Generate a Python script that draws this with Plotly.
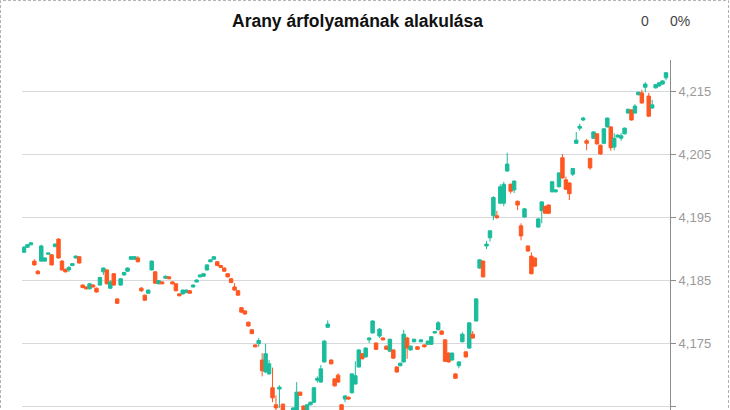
import plotly.graph_objects as go

# Árfolyam-gyertyák (nyitó, max, min, záró)
opens = [
    4.1894, 4.1902, 4.1906, 4.1880, 4.1864, 4.1880, 4.1880, 4.1891, 4.1890, 4.1903,
    4.1915, 4.1880, 4.1867, 4.1866, 4.1873, 4.1885, 4.1887, 4.1842, 4.1839, 4.1836,
    4.1842, 4.1837, 4.1842, 4.1863, 4.1866, 4.1837, 4.1860, 4.1820, 4.1842, 4.1858,
    4.1864, 4.1883, 4.1883, 4.1885, 4.1837, 4.1826, 4.1829, 4.1866, 4.1863, 4.1844,
    4.1847, 4.1853, 4.1855, 4.1847, 4.1844, 4.1828, 4.1828, 4.1830, 4.1833, 4.1839,
    4.1847, 4.1855, 4.1856, 4.1866, 4.1879, 4.1883, 4.1879, 4.1873, 4.1869, 4.1860,
    4.1852, 4.1839, 4.1833, 4.1806, 4.1801, 4.1783, 4.1771, 4.1747, 4.1749, 4.1723,
    4.1704, 4.1701, 4.1679, 4.1652, 4.1677, 4.1653, 4.1641, 4.1625, 4.1635, 4.1636,
    4.1672, 4.1650, 4.1638, 4.1652, 4.1656, 4.1691, 4.1688, 4.1720, 4.1775, 4.1723,
    4.1693, 4.1699, 4.1652, 4.1661, 4.1664, 4.1671, 4.1685, 4.1712, 4.1733, 4.1728,
    4.1755, 4.1766, 4.1750, 4.1761, 4.1758, 4.1745, 4.1737, 4.1739, 4.1712, 4.1714,
    4.1720, 4.1758, 4.1739, 4.1752, 4.1744, 4.1752, 4.1747, 4.1748, 4.1748, 4.1766,
    4.1771, 4.1769, 4.1755, 4.1734, 4.1723, 4.1701, 4.1714, 4.1752, 4.1736, 4.1742,
    4.1764, 4.1785, 4.1869, 4.1880, 4.1904, 4.1917, 4.1952, 4.1952, 4.1972, 4.1972,
    4.2023, 4.2002, 4.1993, 4.1975, 4.1936, 4.1950, 4.1904, 4.1888, 4.1885, 4.1934,
    4.1960, 4.1967, 4.1969, 4.1990, 4.1990, 4.1998, 4.2044, 4.2009, 4.2004, 4.2018,
    4.2067, 4.2091, 4.2104, 4.2071, 4.2043, 4.2075, 4.2082, 4.2064, 4.2067, 4.2093,
    4.2093, 4.2061, 4.2077, 4.2075, 4.2082, 4.2115, 4.2120, 4.2115, 4.2144, 4.2147,
    4.2156, 4.2142, 4.2123, 4.2155, 4.2158, 4.2161, 4.2171,
]
highs = [
    4.1904, 4.1907, 4.1910, 4.1883, 4.1866, 4.1906, 4.1886, 4.1893, 4.1891, 4.1908,
    4.1916, 4.1882, 4.1868, 4.1872, 4.1877, 4.1889, 4.1888, 4.1843, 4.1840, 4.1845,
    4.1843, 4.1838, 4.1855, 4.1870, 4.1867, 4.1850, 4.1861, 4.1821, 4.1853, 4.1863,
    4.1870, 4.1888, 4.1888, 4.1888, 4.1839, 4.1827, 4.1835, 4.1881, 4.1864, 4.1850,
    4.1848, 4.1857, 4.1856, 4.1848, 4.1845, 4.1829, 4.1835, 4.1835, 4.1834, 4.1843,
    4.1851, 4.1859, 4.1861, 4.1875, 4.1883, 4.1888, 4.1880, 4.1874, 4.1870, 4.1861,
    4.1853, 4.1845, 4.1834, 4.1807, 4.1802, 4.1784, 4.1772, 4.1748, 4.1758, 4.1734,
    4.1749, 4.1723, 4.1711, 4.1667, 4.1683, 4.1654, 4.1642, 4.1639, 4.1648, 4.1688,
    4.1673, 4.1651, 4.1653, 4.1657, 4.1680, 4.1697, 4.1715, 4.1755, 4.1786, 4.1724,
    4.1694, 4.1702, 4.1653, 4.1667, 4.1665, 4.1702, 4.1721, 4.1740, 4.1734, 4.1743,
    4.1759, 4.1786, 4.1751, 4.1774, 4.1759, 4.1746, 4.1757, 4.1740, 4.1713, 4.1719,
    4.1771, 4.1760, 4.1746, 4.1757, 4.1745, 4.1756, 4.1748, 4.1754, 4.1761, 4.1769,
    4.1785, 4.1770, 4.1756, 4.1735, 4.1735, 4.1702, 4.1721, 4.1767, 4.1737, 4.1783,
    4.1769, 4.1821, 4.1883, 4.1881, 4.1912, 4.1929, 4.1983, 4.1960, 4.2002, 4.2006,
    4.2052, 4.2003, 4.2008, 4.1976, 4.1940, 4.1964, 4.1905, 4.1894, 4.1886, 4.1948,
    4.1975, 4.1968, 4.1970, 4.2007, 4.1994, 4.2021, 4.2050, 4.2014, 4.2005, 4.2028,
    4.2085, 4.2098, 4.2109, 4.2074, 4.2044, 4.2086, 4.2083, 4.2065, 4.2091, 4.2108,
    4.2094, 4.2083, 4.2081, 4.2083, 4.2092, 4.2122, 4.2121, 4.2129, 4.2149, 4.2152,
    4.2164, 4.2147, 4.2136, 4.2161, 4.2164, 4.2167, 4.2180,
]
lows = [
    4.1893, 4.1901, 4.1905, 4.1873, 4.1859, 4.1879, 4.1879, 4.1890, 4.1873, 4.1902,
    4.1884, 4.1865, 4.1862, 4.1863, 4.1872, 4.1884, 4.1876, 4.1837, 4.1835, 4.1835,
    4.1838, 4.1830, 4.1841, 4.1858, 4.1843, 4.1836, 4.1841, 4.1812, 4.1841, 4.1857,
    4.1863, 4.1882, 4.1882, 4.1878, 4.1831, 4.1817, 4.1828, 4.1865, 4.1844, 4.1843,
    4.1843, 4.1852, 4.1851, 4.1843, 4.1832, 4.1824, 4.1827, 4.1829, 4.1828, 4.1838,
    4.1846, 4.1854, 4.1855, 4.1865, 4.1878, 4.1882, 4.1872, 4.1869, 4.1863, 4.1854,
    4.1845, 4.1833, 4.1825, 4.1798, 4.1795, 4.1776, 4.1764, 4.1743, 4.1744, 4.1697,
    4.1703, 4.1700, 4.1656, 4.1636, 4.1647, 4.1640, 4.1627, 4.1624, 4.1634, 4.1635,
    4.1666, 4.1637, 4.1637, 4.1651, 4.1655, 4.1687, 4.1687, 4.1719, 4.1774, 4.1716,
    4.1681, 4.1687, 4.1643, 4.1656, 4.1660, 4.1670, 4.1684, 4.1711, 4.1724, 4.1727,
    4.1750, 4.1765, 4.1739, 4.1758, 4.1754, 4.1739, 4.1736, 4.1725, 4.1703, 4.1713,
    4.1719, 4.1725, 4.1738, 4.1751, 4.1739, 4.1751, 4.1743, 4.1747, 4.1747, 4.1765,
    4.1770, 4.1763, 4.1720, 4.1719, 4.1722, 4.1693, 4.1710, 4.1751, 4.1727, 4.1741,
    4.1757, 4.1784, 4.1868, 4.1854, 4.1899, 4.1911, 4.1945, 4.1947, 4.1971, 4.1967,
    4.2022, 4.1987, 4.1988, 4.1961, 4.1913, 4.1949, 4.1895, 4.1859, 4.1871, 4.1933,
    4.1940, 4.1955, 4.1955, 4.1989, 4.1989, 4.1997, 4.2011, 4.1993, 4.1977, 4.2015,
    4.2066, 4.2087, 4.2102, 4.2056, 4.2025, 4.2074, 4.2065, 4.2049, 4.2066, 4.2092,
    4.2055, 4.2056, 4.2076, 4.2071, 4.2081, 4.2114, 4.2103, 4.2114, 4.2143, 4.2130,
    4.2148, 4.2109, 4.2122, 4.2154, 4.2157, 4.2160, 4.2167,
]
closes = [
    4.1902, 4.1906, 4.1909, 4.1874, 4.1860, 4.1904, 4.1885, 4.1893, 4.1874, 4.1907,
    4.1885, 4.1866, 4.1863, 4.1870, 4.1876, 4.1888, 4.1877, 4.1838, 4.1836, 4.1844,
    4.1839, 4.1831, 4.1854, 4.1869, 4.1844, 4.1847, 4.1842, 4.1813, 4.1852, 4.1862,
    4.1869, 4.1887, 4.1887, 4.1879, 4.1833, 4.1818, 4.1834, 4.1880, 4.1845, 4.1849,
    4.1844, 4.1856, 4.1852, 4.1844, 4.1833, 4.1825, 4.1834, 4.1834, 4.1829, 4.1842,
    4.1850, 4.1858, 4.1860, 4.1874, 4.1882, 4.1887, 4.1873, 4.1870, 4.1864, 4.1855,
    4.1846, 4.1834, 4.1826, 4.1799, 4.1796, 4.1777, 4.1765, 4.1744, 4.1754, 4.1706,
    4.1733, 4.1717, 4.1663, 4.1647, 4.1680, 4.1641, 4.1628, 4.1638, 4.1647, 4.1672,
    4.1667, 4.1638, 4.1652, 4.1656, 4.1679, 4.1694, 4.1709, 4.1753, 4.1780, 4.1717,
    4.1682, 4.1688, 4.1644, 4.1666, 4.1661, 4.1701, 4.1698, 4.1739, 4.1725, 4.1742,
    4.1758, 4.1785, 4.1740, 4.1772, 4.1755, 4.1740, 4.1756, 4.1726, 4.1704, 4.1718,
    4.1764, 4.1742, 4.1745, 4.1756, 4.1740, 4.1755, 4.1744, 4.1753, 4.1760, 4.1768,
    4.1782, 4.1764, 4.1721, 4.1720, 4.1734, 4.1694, 4.1720, 4.1764, 4.1728, 4.1782,
    4.1758, 4.1820, 4.1882, 4.1855, 4.1907, 4.1928, 4.1981, 4.1949, 4.1998, 4.2002,
    4.2034, 4.1991, 4.2007, 4.1969, 4.1920, 4.1963, 4.1896, 4.1860, 4.1872, 4.1947,
    4.1974, 4.1956, 4.1956, 4.2006, 4.1993, 4.2020, 4.2012, 4.1994, 4.1987, 4.2027,
    4.2072, 4.2094, 4.2107, 4.2067, 4.2028, 4.2085, 4.2066, 4.2050, 4.2090, 4.2107,
    4.2060, 4.2075, 4.2080, 4.2079, 4.2091, 4.2121, 4.2104, 4.2126, 4.2148, 4.2131,
    4.2161, 4.2110, 4.2128, 4.2160, 4.2163, 4.2166, 4.2179,
]

# Időpontok sorszámként (egyenletes lépés)
periods = list(range(len(opens)))

# Árfolyam-tengely beosztása
y_ticks = [4.165, 4.175, 4.185, 4.195, 4.205, 4.215]

title_text = "Arany árfolyamának alakulása"
change_abs = "0"
change_pct = "0%"

UP = "#1abc9c"
DOWN = "#ff5722"

fig = go.Figure(
    go.Candlestick(
        x=periods,
        open=opens,
        high=highs,
        low=lows,
        close=closes,
        increasing=dict(line=dict(color=UP, width=1), fillcolor=UP),
        decreasing=dict(line=dict(color=DOWN, width=1), fillcolor=DOWN),
        whiskerwidth=0,
        hoverinfo="skip",
        showlegend=False,
    )
)

fig.update_layout(
    width=730,
    height=410,
    margin=dict(l=22, r=60, t=60, b=0),
    paper_bgcolor="white",
    plot_bgcolor="white",
    separators=", ",
    boxgap=0.0,
    boxgroupgap=0.0,
    font=dict(family="Liberation Sans, Arial, sans-serif"),
    xaxis=dict(
        range=[-0.58, len(opens) - 1 + 1.16],
        rangeslider=dict(visible=False),
        showticklabels=False,
        showgrid=False,
        zeroline=False,
        showline=False,
        ticks="",
    ),
    yaxis=dict(
        side="right",
        range=[4.16437, 4.21992],
        tickvals=y_ticks,
        tickformat=".3f",
        ticks="outside",
        ticklen=5,
        tickcolor="#8c8c8c",
        showline=True,
        linecolor="#8c8c8c",
        linewidth=1,
        gridcolor="#d7d9dc",
        gridwidth=1,
        zeroline=False,
        tickfont=dict(size=13, color="#9a9a9a"),
    ),
    shapes=[
        dict(
            type="rect", xref="paper", yref="paper",
            x0=-0.0332, x1=1.0903, y0=-0.2, y1=1.1698,
            line=dict(color="#b0b0b0", width=1, dash="3px,2px"),
            fillcolor="rgba(0,0,0,0)",
            layer="above",
        )
    ],
    annotations=[
        dict(
            text="<b>" + title_text + "</b>", xref="paper", yref="paper",
            x=0.517, y=1.1114, xanchor="center", yanchor="middle",
            showarrow=False, font=dict(size=17.5, color="#111111"),
        ),
        dict(
            text=change_abs, xref="paper", yref="paper",
            x=0.9614, y=1.1114, xanchor="center", yanchor="middle",
            showarrow=False, font=dict(size=14, color="#444444"),
        ),
        dict(
            text=change_pct, xref="paper", yref="paper",
            x=1.015, y=1.1114, xanchor="center", yanchor="middle",
            showarrow=False, font=dict(size=14, color="#444444"),
        ),
    ],
)

fig.write_html("out.html")
